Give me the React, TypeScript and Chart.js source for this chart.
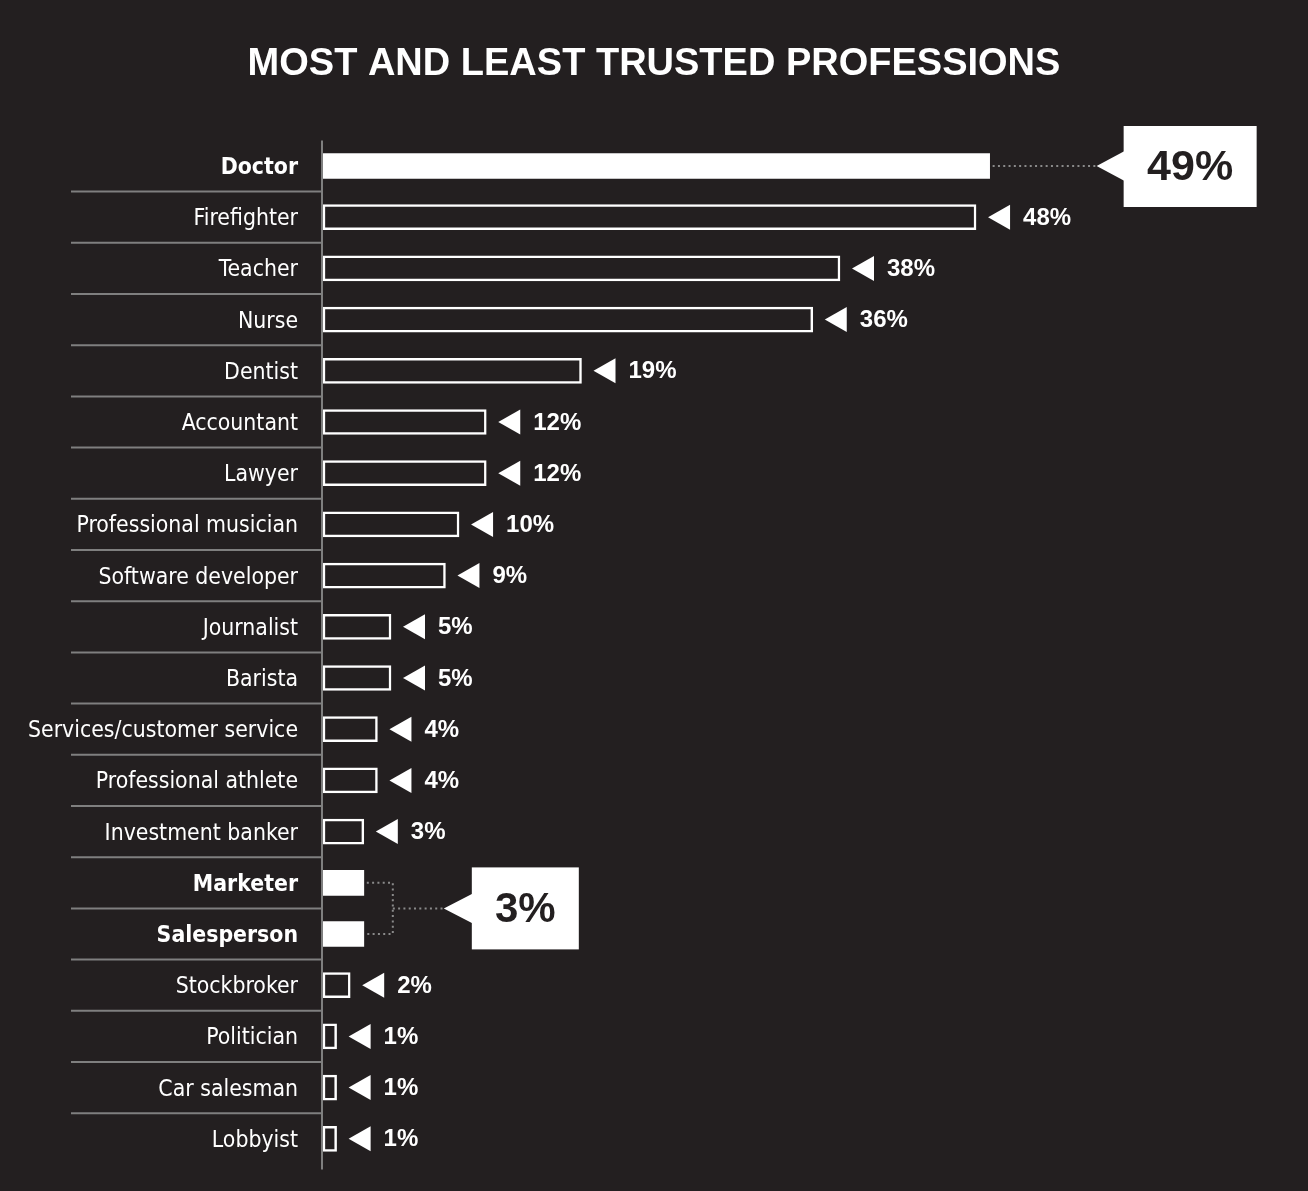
import React, { useEffect, useRef } from 'react';
import { Chart, registerables } from 'chart.js';

Chart.register(...registerables);

const titleText = 'MOST AND LEAST TRUSTED PROFESSIONS';
const categories = [
  'Doctor', 'Firefighter', 'Teacher', 'Nurse', 'Dentist', 'Accountant', 'Lawyer',
  'Professional musician', 'Software developer', 'Journalist', 'Barista',
  'Services/customer service', 'Professional athlete', 'Investment banker',
  'Marketer', 'Salesperson', 'Stockbroker', 'Politician', 'Car salesman', 'Lobbyist',
];
const trustShare = [49, 48, 38, 36, 19, 12, 12, 10, 9, 5, 5, 4, 4, 3, 3, 3, 2, 1, 1, 1];
const highlighted = ['Doctor', 'Marketer', 'Salesperson'];
const topCalloutCategories = ['Doctor'];
const bottomCalloutCategories = ['Marketer', 'Salesperson'];
const topCalloutLabel = '49%';
const bottomCalloutLabel = '3%';

const BG = '#231f20';
const GRAY = '#7f7f7f';
const NARROW = '"DejaVu Sans Condensed", "Liberation Sans Narrow", sans-serif';
const SANS = '"Liberation Sans", Arial, sans-serif';
const LABEL_SIZE = 22.8;

function line(ctx: CanvasRenderingContext2D, x1: number, y1: number, x2: number, y2: number) {
  ctx.beginPath();
  ctx.moveTo(x1, y1);
  ctx.lineTo(x2, y2);
  ctx.stroke();
}

function leftTriangle(ctx: CanvasRenderingContext2D, tipX: number, baseX: number, cy: number, half: number) {
  ctx.beginPath();
  ctx.moveTo(tipX, cy);
  ctx.lineTo(baseX, cy - half);
  ctx.lineTo(baseX, cy + half);
  ctx.closePath();
  ctx.fill();
}

const overlayPlugin = {
  id: 'overlay',
  beforeDraw(chart: any) {
    const { ctx, width, height } = chart;
    ctx.save();
    ctx.fillStyle = BG;
    ctx.fillRect(0, 0, width, height);
    ctx.restore();
  },
  beforeDatasetsDraw(chart: any) {
    const { ctx, chartArea } = chart;
    const y = chart.scales.y;
    ctx.save();
    ctx.strokeStyle = GRAY;
    ctx.lineWidth = 2;
    for (let i = 1; i < categories.length; i++) {
      const yy = (y.getPixelForValue(i - 1) + y.getPixelForValue(i)) / 2;
      line(ctx, 71, yy, chartArea.left, yy);
    }
    line(ctx, chartArea.left - 1, chartArea.top, chartArea.left - 1, chartArea.bottom + 5);
    ctx.restore();
  },
  afterDatasetsDraw(chart: any) {
    const { ctx } = chart;
    const x = chart.scales.x;
    const y = chart.scales.y;
    ctx.save();
    // value labels with pointers
    ctx.fillStyle = '#ffffff';
    ctx.font = `bold 24px ${SANS}`;
    ctx.textBaseline = 'middle';
    ctx.textAlign = 'left';
    categories.forEach((cat, i) => {
      if (highlighted.includes(cat)) return;
      const xe = x.getPixelForValue(trustShare[i]);
      const cy = y.getPixelForValue(i);
      leftTriangle(ctx, xe + 12, xe + 34, cy, 12.5);
      ctx.fillText(`${trustShare[i]}%`, xe + 47, cy + 1);
    });

    // top callout
    const ti = categories.indexOf(topCalloutCategories[0]);
    const txe = x.getPixelForValue(trustShare[ti]);
    const tcy = y.getPixelForValue(ti);
    ctx.strokeStyle = '#8a8a8a';
    ctx.lineWidth = 2;
    ctx.setLineDash([2, 3.3]);
    const tTip = txe + 107;
    line(ctx, txe + 3, tcy, tTip, tcy);
    ctx.setLineDash([]);
    ctx.fillStyle = '#ffffff';
    leftTriangle(ctx, tTip, tTip + 28, tcy, 15);
    ctx.fillRect(tTip + 27, tcy - 40, 133, 81);
    ctx.fillStyle = BG;
    ctx.font = `bold 43px ${SANS}`;
    ctx.textAlign = 'center';
    ctx.fillText(topCalloutLabel, tTip + 27 + 66.5, tcy + 2);

    // bottom callout
    const b1 = categories.indexOf(bottomCalloutCategories[0]);
    const b2 = categories.indexOf(bottomCalloutCategories[1]);
    const bxe = Math.max(x.getPixelForValue(trustShare[b1]), x.getPixelForValue(trustShare[b2]));
    const by1 = y.getPixelForValue(b1);
    const by2 = y.getPixelForValue(b2);
    const bmid = (by1 + by2) / 2;
    const bracketX = bxe + 29;
    const bTip = bxe + 80;
    ctx.strokeStyle = '#8a8a8a';
    ctx.lineWidth = 2;
    ctx.setLineDash([2, 3.3]);
    ctx.beginPath();
    ctx.moveTo(bxe + 3, by1);
    ctx.lineTo(bracketX, by1);
    ctx.lineTo(bracketX, by2);
    ctx.lineTo(bxe + 3, by2);
    ctx.stroke();
    line(ctx, bracketX, bmid, bTip, bmid);
    ctx.setLineDash([]);
    ctx.fillStyle = '#ffffff';
    leftTriangle(ctx, bTip, bTip + 29, bmid, 15);
    ctx.fillRect(bTip + 28, bmid - 41, 107, 82);
    ctx.fillStyle = BG;
    ctx.font = `bold 42px ${SANS}`;
    ctx.textAlign = 'center';
    ctx.fillText(bottomCalloutLabel, bTip + 28 + 53.5, bmid + 2);
    ctx.restore();
  },
};

export default function App() {
  const canvasRef = useRef<HTMLCanvasElement | null>(null);

  useEffect(() => {
    document.body.style.margin = '0';
    document.body.style.background = BG;
    const canvas = canvasRef.current;
    if (!canvas) return;
    const chart = new Chart(canvas, {
      type: 'bar',
      data: {
        labels: categories,
        datasets: [
          {
            data: trustShare,
            backgroundColor: categories.map((c) => (highlighted.includes(c) ? '#ffffff' : BG)),
            borderColor: '#ffffff',
            borderWidth: categories.map((c) => (highlighted.includes(c) ? 0 : 2.5)) as any,
            borderSkipped: false,
            barThickness: 25,
          },
        ],
      },
      options: {
        indexAxis: 'y',
        responsive: false,
        animation: false,
        devicePixelRatio: 1,
        layout: { padding: { top: 0, bottom: 26.6, left: 0, right: 0 } },
        plugins: {
          legend: { display: false },
          tooltip: { enabled: false },
          title: {
            display: true,
            text: titleText,
            color: '#ffffff',
            font: { family: SANS, size: 38, weight: 'bold', lineHeight: 1.2 },
            padding: { top: 41.5, bottom: 53.3 },
          },
        },
        scales: {
          x: {
            display: false,
            min: 0,
            max: 72.4,
          },
          y: {
            grid: { display: false, drawTicks: false },
            border: { display: false },
            afterFit: (scale: any) => {
              scale.width = 323;
              scale.paddingTop = 0;
              scale.paddingBottom = 0;
            },
            ticks: {
              color: '#ffffff',
              padding: 25,
              labelOffset: 2,
              autoSkip: false,
              font: (ctx: any) => ({
                family: NARROW,
                size: LABEL_SIZE,
                weight: highlighted.includes(categories[ctx.index]) ? 'bold' : 'normal',
              }),
            },
          },
        },
      },
      plugins: [overlayPlugin],
    });
    return () => chart.destroy();
  }, []);

  return (
    <canvas
      ref={canvasRef}
      width={1308}
      height={1191}
      style={{ display: 'block', width: 1308, height: 1191 }}
    />
  );
}
